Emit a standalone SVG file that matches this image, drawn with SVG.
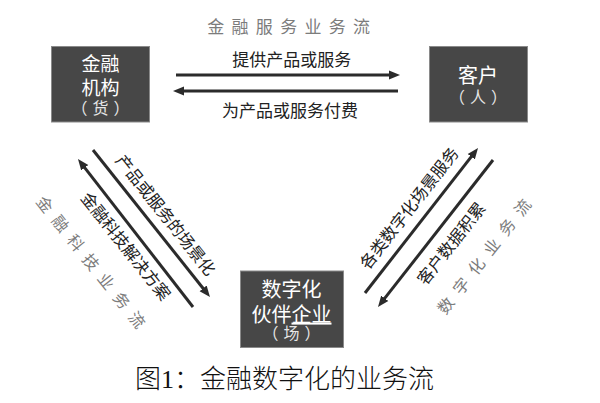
<svg xmlns="http://www.w3.org/2000/svg" width="600" height="403" viewBox="0 0 600 403">
<style>
  text { font-family: "Noto Sans CJK SC", "Noto Sans", sans-serif; }
  .box { fill: #474747; stroke: #8a8a8a; stroke-width: 1; }
  .bt { fill: #ffffff; text-anchor: middle; }
  .paren { fill: #e6e6e6; text-anchor: middle; font-size: 16px; letter-spacing: 5px; }
  .lbl { fill: #222; text-anchor: middle; font-size: 17px; }
  .dl { fill: #222; text-anchor: middle; font-size: 16.5px; }
  .flow { fill: #7c7c7c; text-anchor: middle; }
  .arr { stroke: #2b2b2b; stroke-width: 3; fill: none; marker-end: url(#ah); }
  .cap { fill: #111; font-family: "Liberation Serif", "Noto Sans CJK SC", serif; font-size: 26px; font-weight: 300; }
</style>
<defs>
  <marker id="ah" markerUnits="userSpaceOnUse" markerWidth="12" markerHeight="10" viewBox="0 0 12 10" refX="3" refY="5" orient="auto">
    <path d="M0,0.5 L11,5 L0,9.5 z" fill="#2b2b2b"/>
  </marker>
</defs>
<rect width="600" height="403" fill="#ffffff"/>

<text class="flow" x="292.3" y="33" style="font-size:17px; letter-spacing:7.3px">金融服务业务流</text>

<g id="node-bank">
  <rect class="box" x="51.5" y="46.5" width="98" height="75.5"/>
  <text class="bt" x="100.5" y="71.2" style="font-size:19px">金融</text>
  <text class="bt" x="100.5" y="94.7" style="font-size:19px">机构</text>
  <text class="paren" x="103" y="113.6">（货）</text>
</g>

<g id="node-customer">
  <rect class="box" x="429.5" y="46.5" width="98" height="75.5"/>
  <text class="bt" x="478" y="83.4" style="font-size:20px">客户</text>
  <text class="paren" x="480.5" y="102.8">（人）</text>
</g>

<g id="node-partner">
  <rect class="box" x="240.5" y="271" width="103" height="76.5"/>
  <text class="bt" x="291.5" y="296.6" style="font-size:20px">数字化</text>
  <text class="bt" x="291.5" y="321.6" style="font-size:20px">伙伴<tspan text-decoration="underline">企业</tspan></text>
  <text class="paren" x="294" y="338.6">（场）</text>
</g>

<g id="connectors">
  <line class="arr" x1="176" y1="75" x2="392" y2="75"/>
  <line class="arr" x1="398" y1="91" x2="181" y2="91"/>
  <line class="arr" x1="93" y1="150" x2="205" y2="290.7"/>
  <line class="arr" x1="193" y1="307" x2="82.9" y2="165.3"/>
  <line class="arr" x1="365" y1="293" x2="473.1" y2="154.3"/>
  <line class="arr" x1="493" y1="160" x2="382.9" y2="300.7"/>

  <text class="lbl" x="291.7" y="66.2">提供产品或服务</text>
  <text class="lbl" x="290" y="116.8">为产品或服务付费</text>

  <text class="dl" transform="translate(166 215) rotate(51.5)" x="0" y="0" dy=".38em">产品或服务的场景化</text>
  <text class="dl" transform="translate(126 246) rotate(51.5)" x="0" y="0" dy=".38em">金融科技解决方案</text>
  <text class="dl" transform="translate(409 208) rotate(-52)" x="0" y="0" dy=".38em">各类数字化场景服务</text>
  <text class="dl" transform="translate(451 243.5) rotate(-52)" x="0" y="0" dy=".38em">客户数据积累</text>
</g>

<text class="flow" transform="translate(91 262) rotate(51.5)" x="4.3" y="0" dy=".38em" style="font-size:16px; letter-spacing:8.6px">金融科技业务流</text>
<text class="flow" transform="translate(484 256.5) rotate(-52)" x="4.45" y="0" dy=".38em" style="font-size:16px; letter-spacing:8.9px">数字化业务流</text>

<text class="cap" x="135" y="388">图1：金融数字化的业务流</text>
</svg>
